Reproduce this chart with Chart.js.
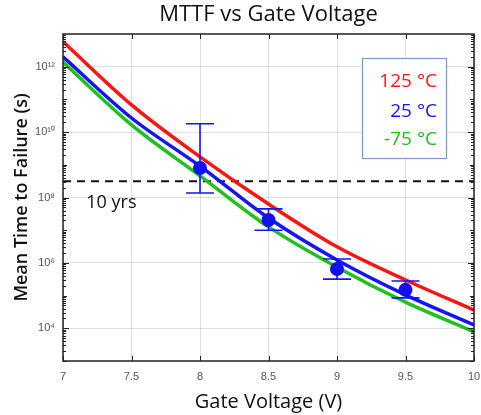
<!DOCTYPE html>
<html>
<head>
<meta charset="utf-8">
<script src="https://cdn.jsdelivr.net/npm/chart.js@4.4.0/dist/chart.umd.min.js"></script>
<style>
  html, body { margin: 0; padding: 0; background: #fff; }
  #wrap { width: 481px; height: 415px; }
</style>
</head>
<body>
<div id="wrap"><canvas id="c" width="481" height="415"></canvas></div>
<script>
// Model curves: MTTF (s) versus gate voltage (V) at three temperatures
const gateVoltage = [7, 7.5, 8, 8.5, 9, 9.5, 10];
const mttf125 = [5.8e12, 6.8e10, 1.75e9, 6.3e7, 3.1e6, 3.0e5, 3.6e4];
const mttf25 = [2.0e12, 2.7e10, 9.1e8, 2.35e7, 1.23e6, 1.05e5, 1.26e4];
const mttfMinus75 = [1.38e12, 1.66e10, 4.6e8, 1.26e7, 7.4e5, 6.3e4, 7.8e3];

// Measured MTTF with error bars
const measuredVoltage = [8, 8.5, 9, 9.5];
const measuredMttf = [8.0e8, 2.05e7, 6.5e5, 1.5e5];
const measuredLow = [1.38e8, 1.0e7, 3.2e5, 8.5e4];
const measuredHigh = [1.8e10, 4.5e7, 1.32e6, 2.8e5];

// Ten-year lifetime reference (s)
const tenYears = 3.15e8;
const tenYearsLabel = '10 yrs';

const xTicks = [7, 7.5, 8, 8.5, 9, 9.5, 10];
const xTickLabels = ['7', '7.5', '8', '8.5', '9', '9.5', '10'];
const yTicks = [1e4, 1e6, 1e8, 1e10, 1e12];
const yTickLabels = ['10⁴', '10⁶', '10⁸', '10¹⁰', '10¹²'];

const seriesLabels = ['125 °C', '25 °C', '-75 °C'];
const seriesColors = ['#ff1414', '#1414ff', '#20c020'];

const toPoints = (xs, ys) => xs.map((x, i) => ({ x: x, y: ys[i] }));

// Axes frame with inward tick marks (major + log minor)
const framePlugin = {
  id: 'frame',
  afterDraw(chart) {
    const { ctx, chartArea: a, scales: { x, y } } = chart;
    ctx.save();
    ctx.strokeStyle = '#222';
    ctx.lineWidth = 1;
    ctx.beginPath();
    xTicks.forEach(v => {
      const px = Math.round(x.getPixelForValue(v)) + 0.5;
      ctx.moveTo(px, a.bottom); ctx.lineTo(px, a.bottom - 5);
      ctx.moveTo(px, a.top); ctx.lineTo(px, a.top + 5);
    });
    for (let d = 3; d <= 12; d++) {
      for (let m = 1; m <= 9; m++) {
        const v = m * Math.pow(10, d);
        const py = Math.round(y.getPixelForValue(v)) + 0.5;
        const len = m === 1 ? (d % 2 === 0 ? 6 : 4) : 3;
        ctx.moveTo(a.left, py); ctx.lineTo(a.left + len, py);
        ctx.moveTo(a.right, py); ctx.lineTo(a.right - len, py);
      }
    }
    ctx.stroke();
    ctx.lineWidth = 1.5;
    ctx.strokeRect(a.left, a.top, a.right - a.left, a.bottom - a.top);
    ctx.restore();
  }
};

// Error bars on the measured points, the 10-year label and the legend box
const annotatePlugin = {
  id: 'annotate',
  afterDatasetsDraw(chart) {
    const { ctx, chartArea: a, scales: { x, y } } = chart;
    ctx.save();
    ctx.strokeStyle = '#1414f0';
    ctx.lineWidth = 1.6;
    ctx.beginPath();
    measuredVoltage.forEach((v, i) => {
      const px = x.getPixelForValue(v);
      const top = y.getPixelForValue(measuredHigh[i]);
      const bot = y.getPixelForValue(measuredLow[i]);
      ctx.moveTo(px, top); ctx.lineTo(px, bot);
      ctx.moveTo(px - 14, top); ctx.lineTo(px + 14, top);
      ctx.moveTo(px - 14, bot); ctx.lineTo(px + 14, bot);
    });
    ctx.stroke();

    ctx.fillStyle = '#111';
    ctx.font = '18px "Open Sans"';
    ctx.textAlign = 'left';
    ctx.textBaseline = 'middle';
    ctx.fillText(tenYearsLabel, x.getPixelForValue(7.17), y.getPixelForValue(tenYears) + 22);

    // legend
    const bx = a.right - 112, by = a.top + 24, bw = 84, bh = 100;
    ctx.fillStyle = '#fff';
    ctx.fillRect(bx, by, bw, bh);
    ctx.strokeStyle = '#7c98c8';
    ctx.lineWidth = 1.2;
    ctx.strokeRect(bx + 0.5, by + 0.5, bw, bh);
    ctx.textAlign = 'right';
    ctx.font = '19px "Open Sans"';
    const rows = [24, 54, 82];
    seriesLabels.forEach((t, i) => {
      ctx.fillStyle = seriesColors[i];
      ctx.fillText(t, bx + bw - 9, by + rows[i]);
    });
    ctx.restore();
  }
};

new Chart(document.getElementById('c'), {
  type: 'line',
  data: {
    datasets: [
      {
        label: 'Measured',
        data: toPoints(measuredVoltage, measuredMttf),
        showLine: false,
        pointRadius: 7,
        pointBackgroundColor: '#1010f0',
        pointBorderColor: '#1010f0',
        pointBorderWidth: 0,
        order: 0
      },
      {
        label: seriesLabels[0],
        data: toPoints(gateVoltage, mttf125),
        borderColor: seriesColors[0],
        borderWidth: 3.5,
        pointRadius: 0,
        cubicInterpolationMode: 'monotone',
        order: 1
      },
      {
        label: seriesLabels[1],
        data: toPoints(gateVoltage, mttf25),
        borderColor: seriesColors[1],
        borderWidth: 3.5,
        pointRadius: 0,
        cubicInterpolationMode: 'monotone',
        order: 2
      },
      {
        label: seriesLabels[2],
        data: toPoints(gateVoltage, mttfMinus75),
        borderColor: seriesColors[2],
        borderWidth: 3.5,
        pointRadius: 0,
        cubicInterpolationMode: 'monotone',
        order: 3
      },
      {
        label: tenYearsLabel,
        data: [{ x: xTicks[0], y: tenYears }, { x: xTicks[xTicks.length - 1], y: tenYears }],
        borderColor: '#111',
        borderWidth: 2,
        borderDash: [8, 6],
        pointRadius: 0,
        order: 4
      }
    ]
  },
  options: {
    responsive: false,
    devicePixelRatio: 1,
    animation: false,
    layout: { padding: { left: 0, right: 5, top: 0, bottom: 0 } },
    plugins: {
      legend: { display: false },
      tooltip: { enabled: false },
      title: {
        display: true,
        fullSize: false,
        text: 'MTTF vs Gate Voltage',
        color: '#111',
        font: { family: 'Open Sans', size: 22, weight: 'normal' },
        padding: { top: 2, bottom: 5.6 }
      }
    },
    scales: {
      x: {
        type: 'linear',
        min: 7,
        max: 10,
        afterBuildTicks(scale) { scale.ticks = xTicks.map(v => ({ value: v })); },
        afterFit(scale) { scale.height = 54; scale.paddingLeft = 0; scale.paddingRight = 0; },
        grid: { color: 'rgba(0,0,0,0.12)', drawTicks: false },
        border: { display: false },
        ticks: {
          padding: 9,
          color: '#555',
          font: { family: 'Liberation Sans', size: 11 },
          maxRotation: 0,
          callback: (v) => xTickLabels[xTicks.indexOf(v)]
        },
        title: {
          display: true,
          text: 'Gate Voltage (V)',
          color: '#111',
          font: { family: 'Open Sans', size: 20 },
          padding: { top: 0, bottom: 1 }
        }
      },
      y: {
        type: 'logarithmic',
        min: 1e3,
        max: 1e13,
        afterBuildTicks(scale) { scale.ticks = yTicks.map(v => ({ value: v })); },
        afterFit(scale) { scale.width = 63; scale.paddingTop = 0; scale.paddingBottom = 0; },
        grid: { color: 'rgba(0,0,0,0.12)', drawTicks: false },
        border: { display: false },
        ticks: {
          padding: 8,
          color: '#555',
          font: { family: 'Liberation Sans', size: 11 },
          callback: (v) => yTickLabels[yTicks.indexOf(v)]
        },
        title: {
          display: true,
          text: 'Mean Time to Failure (s)',
          color: '#111',
          font: { family: 'Open Sans', size: 18, weight: '600' },
          padding: { top: 11, bottom: 0 }
        }
      }
    }
  },
  plugins: [framePlugin, annotatePlugin]
});
</script>
</body>
</html>
